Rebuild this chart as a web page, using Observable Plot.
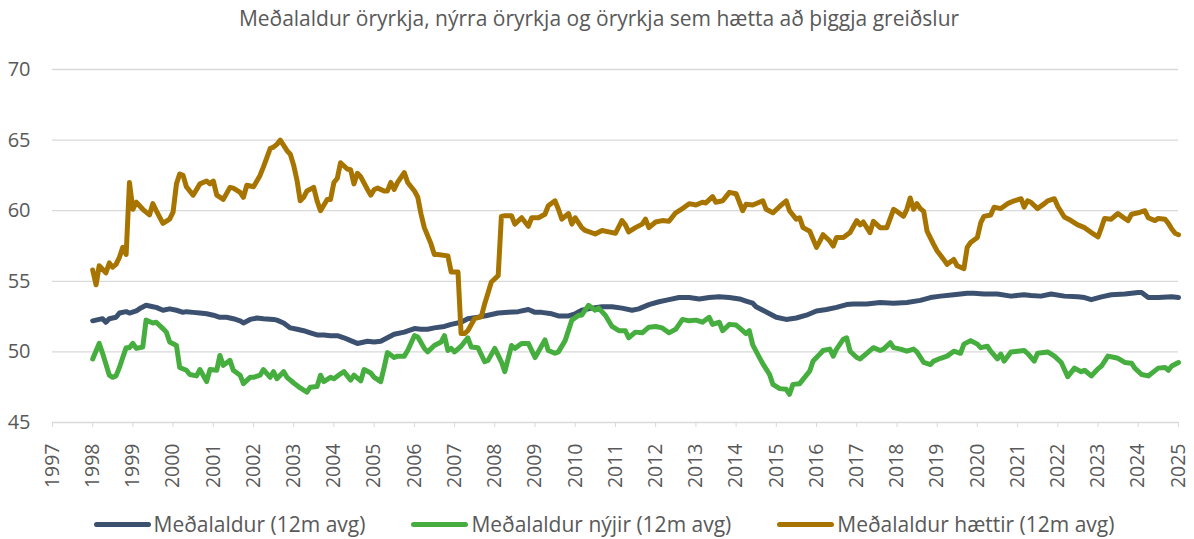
<!DOCTYPE html>
<html>
<head>
<meta charset="utf-8">
<script src="https://cdn.jsdelivr.net/npm/d3@7"></script>
<script src="https://cdn.jsdelivr.net/npm/@observablehq/plot@0.6"></script>
<style>
  html, body { margin: 0; padding: 0; background: #fff; }
  body { width: 1194px; height: 539px; overflow: hidden; font-family: "Open Sans", sans-serif; color: #595959; }
  #title { height: 36px; line-height: 36px; text-align: center; font-size: 21px; color: #595959; padding-left: 4px; white-space: nowrap; }
  #legend { height: 36px; display: flex; justify-content: center; align-items: center; font-size: 21px; color: #595959; padding-left: 14px; white-space: nowrap; }
  .item { display: flex; align-items: center; margin: 0 23px; }
  .swatch { width: 57px; height: 5px; border-radius: 3px; margin-right: 3px; }
  svg { display: block; }
</style>
</head>
<body>
<div id="title">Meðalaldur öryrkja, nýrra öryrkja og öryrkja sem hætta að þiggja greiðslur</div>
<div id="chart"></div>
<div id="legend"></div>
<script>
// Series names and colours
const seriesNames = ["Meðalaldur (12m avg)", "Meðalaldur nýjir (12m avg)", "Meðalaldur hættir (12m avg)"];
const seriesColors = ["#3C5070", "#45AE3E", "#A87400"];

// Axis ticks
const yTicks = [45, 50, 55, 60, 65, 70];
const xYears = d3.range(1997, 2026);

// Meðalaldur (12m avg): months since Jan 1998, values
const allMonths = [0,2,3,4,5,7,8,10,11,13,14,16,18,19,21,23,25,27,28,30,32,34,36,38,40,42,44,45,47,49,51,54,55,57,59,61,63,65,67,69,71,73,75,77,79,80,82,84,86,88,90,93,96,98,100,102,105,107,110,112,115,118,121,124,127,130,132,134,137,139,142,144,146,149,152,155,158,161,163,166,169,172,175,178,181,184,187,190,193,195,197,198,200,202,204,207,210,213,216,219,222,225,227,231,235,239,243,247,250,253,257,261,263,266,270,274,278,280,283,286,290,294,296,298,301,304,308,312,313,315,318,322,324];
const allValues = [52.2,52.3,52.35,52.1,52.35,52.45,52.75,52.85,52.75,52.9,53.05,53.3,53.2,53.15,52.95,53.05,52.95,52.8,52.85,52.8,52.75,52.7,52.6,52.45,52.45,52.35,52.2,52.05,52.3,52.4,52.35,52.3,52.25,52.05,51.7,51.6,51.5,51.35,51.2,51.2,51.15,51.15,51.0,50.8,50.6,50.65,50.75,50.7,50.75,51.0,51.25,51.4,51.65,51.6,51.6,51.7,51.8,51.95,52.1,52.35,52.45,52.6,52.75,52.8,52.85,53.0,52.8,52.8,52.7,52.55,52.55,52.7,52.95,53.1,53.2,53.2,53.1,52.95,53.05,53.35,53.55,53.7,53.85,53.85,53.75,53.85,53.9,53.85,53.75,53.6,53.45,53.2,52.95,52.7,52.45,52.3,52.4,52.6,52.9,53.0,53.15,53.35,53.4,53.4,53.5,53.45,53.5,53.65,53.85,53.95,54.05,54.15,54.15,54.1,54.1,53.95,54.05,54.0,53.95,54.1,53.95,53.9,53.85,53.7,53.9,54.05,54.1,54.2,54.2,53.85,53.85,53.9,53.85];

// Meðalaldur nýjir (12m avg)
const newMonths = [0,2,3,5,6,7,8,9,10,11,12,13,15,16,18,19,21,22,23,25,26,28,29,31,32,34,35,37,38,39,41,42,44,45,47,48,50,51,53,54,55,57,58,60,62,64,65,67,68,69,71,72,74,75,77,78,80,81,83,84,86,87,88,90,91,93,94,96,97,99,100,102,104,105,106,107,108,110,112,113,115,117,118,120,122,123,125,126,128,130,132,135,136,138,139,141,143,145,146,148,150,151,153,155,157,159,160,162,164,166,168,170,172,174,176,178,180,182,184,185,187,188,190,192,193,195,196,197,199,200,202,203,205,207,208,209,211,212,214,215,217,218,220,221,222,224,225,226,228,229,231,233,235,236,238,239,241,243,245,246,248,250,251,253,255,257,259,260,262,264,265,267,268,270,271,272,274,276,278,279,281,282,285,287,289,291,293,295,296,298,300,301,303,305,306,308,310,311,313,315,318,320,321,322,324];
const newValues = [49.5,50.6,49.9,48.35,48.2,48.3,48.9,49.6,50.3,50.3,50.6,50.25,50.35,52.25,52.05,52.1,51.65,51.4,50.7,50.45,48.9,48.7,48.4,48.3,48.75,47.9,48.75,48.7,49.75,49.05,49.4,48.7,48.35,47.75,48.2,48.2,48.35,48.75,48.2,48.6,48.1,48.6,48.2,47.8,47.45,47.15,47.5,47.55,48.35,47.9,48.2,48.1,48.45,48.6,48.0,48.35,47.95,48.75,48.5,48.2,47.9,48.9,49.95,49.6,49.7,49.7,50.1,51.15,51.05,50.25,50.0,50.45,50.7,51.15,50.1,50.25,50.0,50.4,51.0,50.35,50.3,49.3,49.4,50.25,49.3,48.6,50.45,50.25,50.6,50.6,49.6,50.85,50.1,49.9,50.0,50.8,52.25,52.6,52.6,53.3,52.95,53.1,52.6,51.8,51.5,51.5,51.0,51.4,51.35,51.75,51.8,51.7,51.35,51.6,52.3,52.2,52.25,52.1,52.45,51.95,52.1,51.5,51.95,51.9,51.7,51.3,51.5,50.5,49.6,49.15,48.4,47.7,47.4,47.35,47.0,47.7,47.75,48.05,48.65,49.35,49.85,50.1,50.2,49.7,50.2,50.9,51.0,50.05,49.6,49.5,49.9,50.3,50.1,50.2,50.65,50.3,50.2,50.05,50.2,50.0,49.25,49.1,49.35,49.55,49.7,50.05,49.9,50.55,50.8,50.55,50.3,50.4,50.05,49.5,49.85,49.35,50.0,50.05,50.1,49.9,49.35,49.9,50.0,49.7,49.25,48.25,48.85,48.6,48.7,48.3,48.8,49.0,49.7,49.6,49.55,49.25,49.2,48.85,48.4,48.3,48.85,48.9,48.7,49.0,49.25];

// Meðalaldur hættir (12m avg)
const exitMonths = [0,1,2,4,5,6,7,8,9,10,11,12,13,15,16,17,18,19,21,23,24,25,26,27,28,30,32,34,35,36,37,39,41,42,44,45,46,48,50,51,53,54,55,56,58,59,60,61,62,63,64,66,67,68,70,71,72,73,74,76,77,78,79,80,82,83,84,85,87,88,89,90,91,93,94,96,97,98,99,101,102,103,106,107,109,110,111,112,114,116,117,119,121,122,123,125,126,128,130,131,133,135,136,138,139,140,142,143,144,146,147,150,152,154,156,158,159,160,162,164,165,166,168,170,172,174,176,178,180,182,183,185,186,188,190,192,194,195,197,200,201,203,205,207,208,210,211,212,214,216,217,218,220,221,222,224,226,228,229,230,232,233,235,237,239,240,242,243,244,245,246,247,248,249,251,252,254,255,257,258,260,261,262,264,265,266,268,269,271,273,275,277,278,279,280,282,284,285,287,288,290,292,294,296,298,300,301,302,304,306,308,309,310,312,314,315,317,318,320,321,322,323,324];
const exitValues = [55.8,54.75,56.1,55.6,56.3,56.0,56.2,56.7,57.4,56.9,62.0,60.1,60.6,60.1,59.9,59.7,60.5,60.0,59.1,59.4,59.9,61.9,62.6,62.5,61.7,61.1,61.9,62.1,61.9,62.1,61.1,60.8,61.65,61.6,61.3,60.95,61.8,61.7,62.5,63.1,64.4,64.5,64.7,65.0,64.25,64.0,63.2,62.1,60.7,60.95,61.4,61.65,60.7,60.0,60.8,60.8,62.0,62.3,63.4,62.95,62.9,61.9,62.65,62.4,61.5,61.1,61.5,61.6,61.4,61.4,62.0,61.5,62.0,62.7,62.0,61.4,60.95,59.8,58.8,57.65,56.9,56.9,56.8,55.65,55.65,51.3,51.3,51.5,52.35,52.5,53.4,54.95,55.4,59.6,59.65,59.65,59.05,59.5,58.9,59.5,59.5,59.75,60.35,60.7,60.1,59.4,59.8,59.05,59.5,58.8,58.6,58.35,58.6,58.5,58.4,59.3,59.0,58.5,58.8,59.05,59.4,58.8,59.2,59.3,59.25,59.85,60.15,60.5,60.4,60.6,60.55,61.0,60.6,60.7,61.3,61.2,60.0,60.45,60.4,60.7,60.1,59.85,60.3,60.7,60.0,59.4,59.5,58.8,58.55,57.4,57.85,58.3,57.85,57.5,58.1,58.1,58.45,59.3,59.0,59.2,58.45,59.25,58.8,58.8,60.1,59.95,59.6,60.1,60.9,60.1,60.5,60.15,59.95,58.55,57.6,57.15,56.55,56.2,56.55,56.1,55.9,57.4,57.75,58.1,59.15,59.6,59.7,60.25,60.15,60.5,60.7,60.85,60.25,60.7,60.6,60.15,60.5,60.7,60.85,60.3,59.55,59.3,59.0,58.8,58.45,58.15,58.8,59.45,59.4,59.8,59.45,59.3,59.75,59.85,60.0,59.5,59.3,59.45,59.4,59.1,58.7,58.4,58.3];

const toRows = (months, values, name) =>
  months.map((m, i) => ({date: new Date(Date.UTC(1998, m, 1)), value: values[i], series: name}));

const rows = [
  ...toRows(allMonths, allValues, seriesNames[0]),
  ...toRows(newMonths, newValues, seriesNames[1]),
  ...toRows(exitMonths, exitValues, seriesNames[2])
];

const xTicks = xYears.map(y => new Date(Date.UTC(y, 0, 1)));

const chart = Plot.plot({
  width: 1194,
  height: 470,
  marginTop: 33,
  marginBottom: 84,
  marginLeft: 52,
  marginRight: 16,
  style: {fontFamily: "Open Sans, sans-serif", fontSize: "19px", color: "#595959", background: "#fff"},
  x: {type: "utc", domain: [xTicks[0], xTicks[xTicks.length - 1]]},
  y: {domain: [45, 70]},
  color: {domain: seriesNames, range: seriesColors},
  marks: [
    Plot.gridY(yTicks, {stroke: "#d9d9d9", strokeOpacity: 1, strokeWidth: 1.3}),
    Plot.axisY(yTicks, {tickSize: 0, tickPadding: 22, fontSize: 20, label: null}),
    Plot.axisX(xTicks, {tickSize: 5, stroke: "#d9d9d9", strokeOpacity: 1, tickRotate: -90, tickPadding: 16, tickFormat: d3.utcFormat("%Y"), fontSize: 19.5, label: null}),
    Plot.lineY(rows, {x: "date", y: "value", z: "series", stroke: "series", strokeWidth: 5, strokeLinejoin: "round", strokeLinecap: "round"})
  ]
});
document.getElementById("chart").appendChild(chart);

const legend = document.getElementById("legend");
seriesNames.forEach((name, i) => {
  const item = document.createElement("div");
  item.className = "item";
  const sw = document.createElement("span");
  sw.className = "swatch";
  sw.style.background = seriesColors[i];
  const label = document.createElement("span");
  label.textContent = name;
  item.appendChild(sw);
  item.appendChild(label);
  legend.appendChild(item);
});
</script>
</body>
</html>
